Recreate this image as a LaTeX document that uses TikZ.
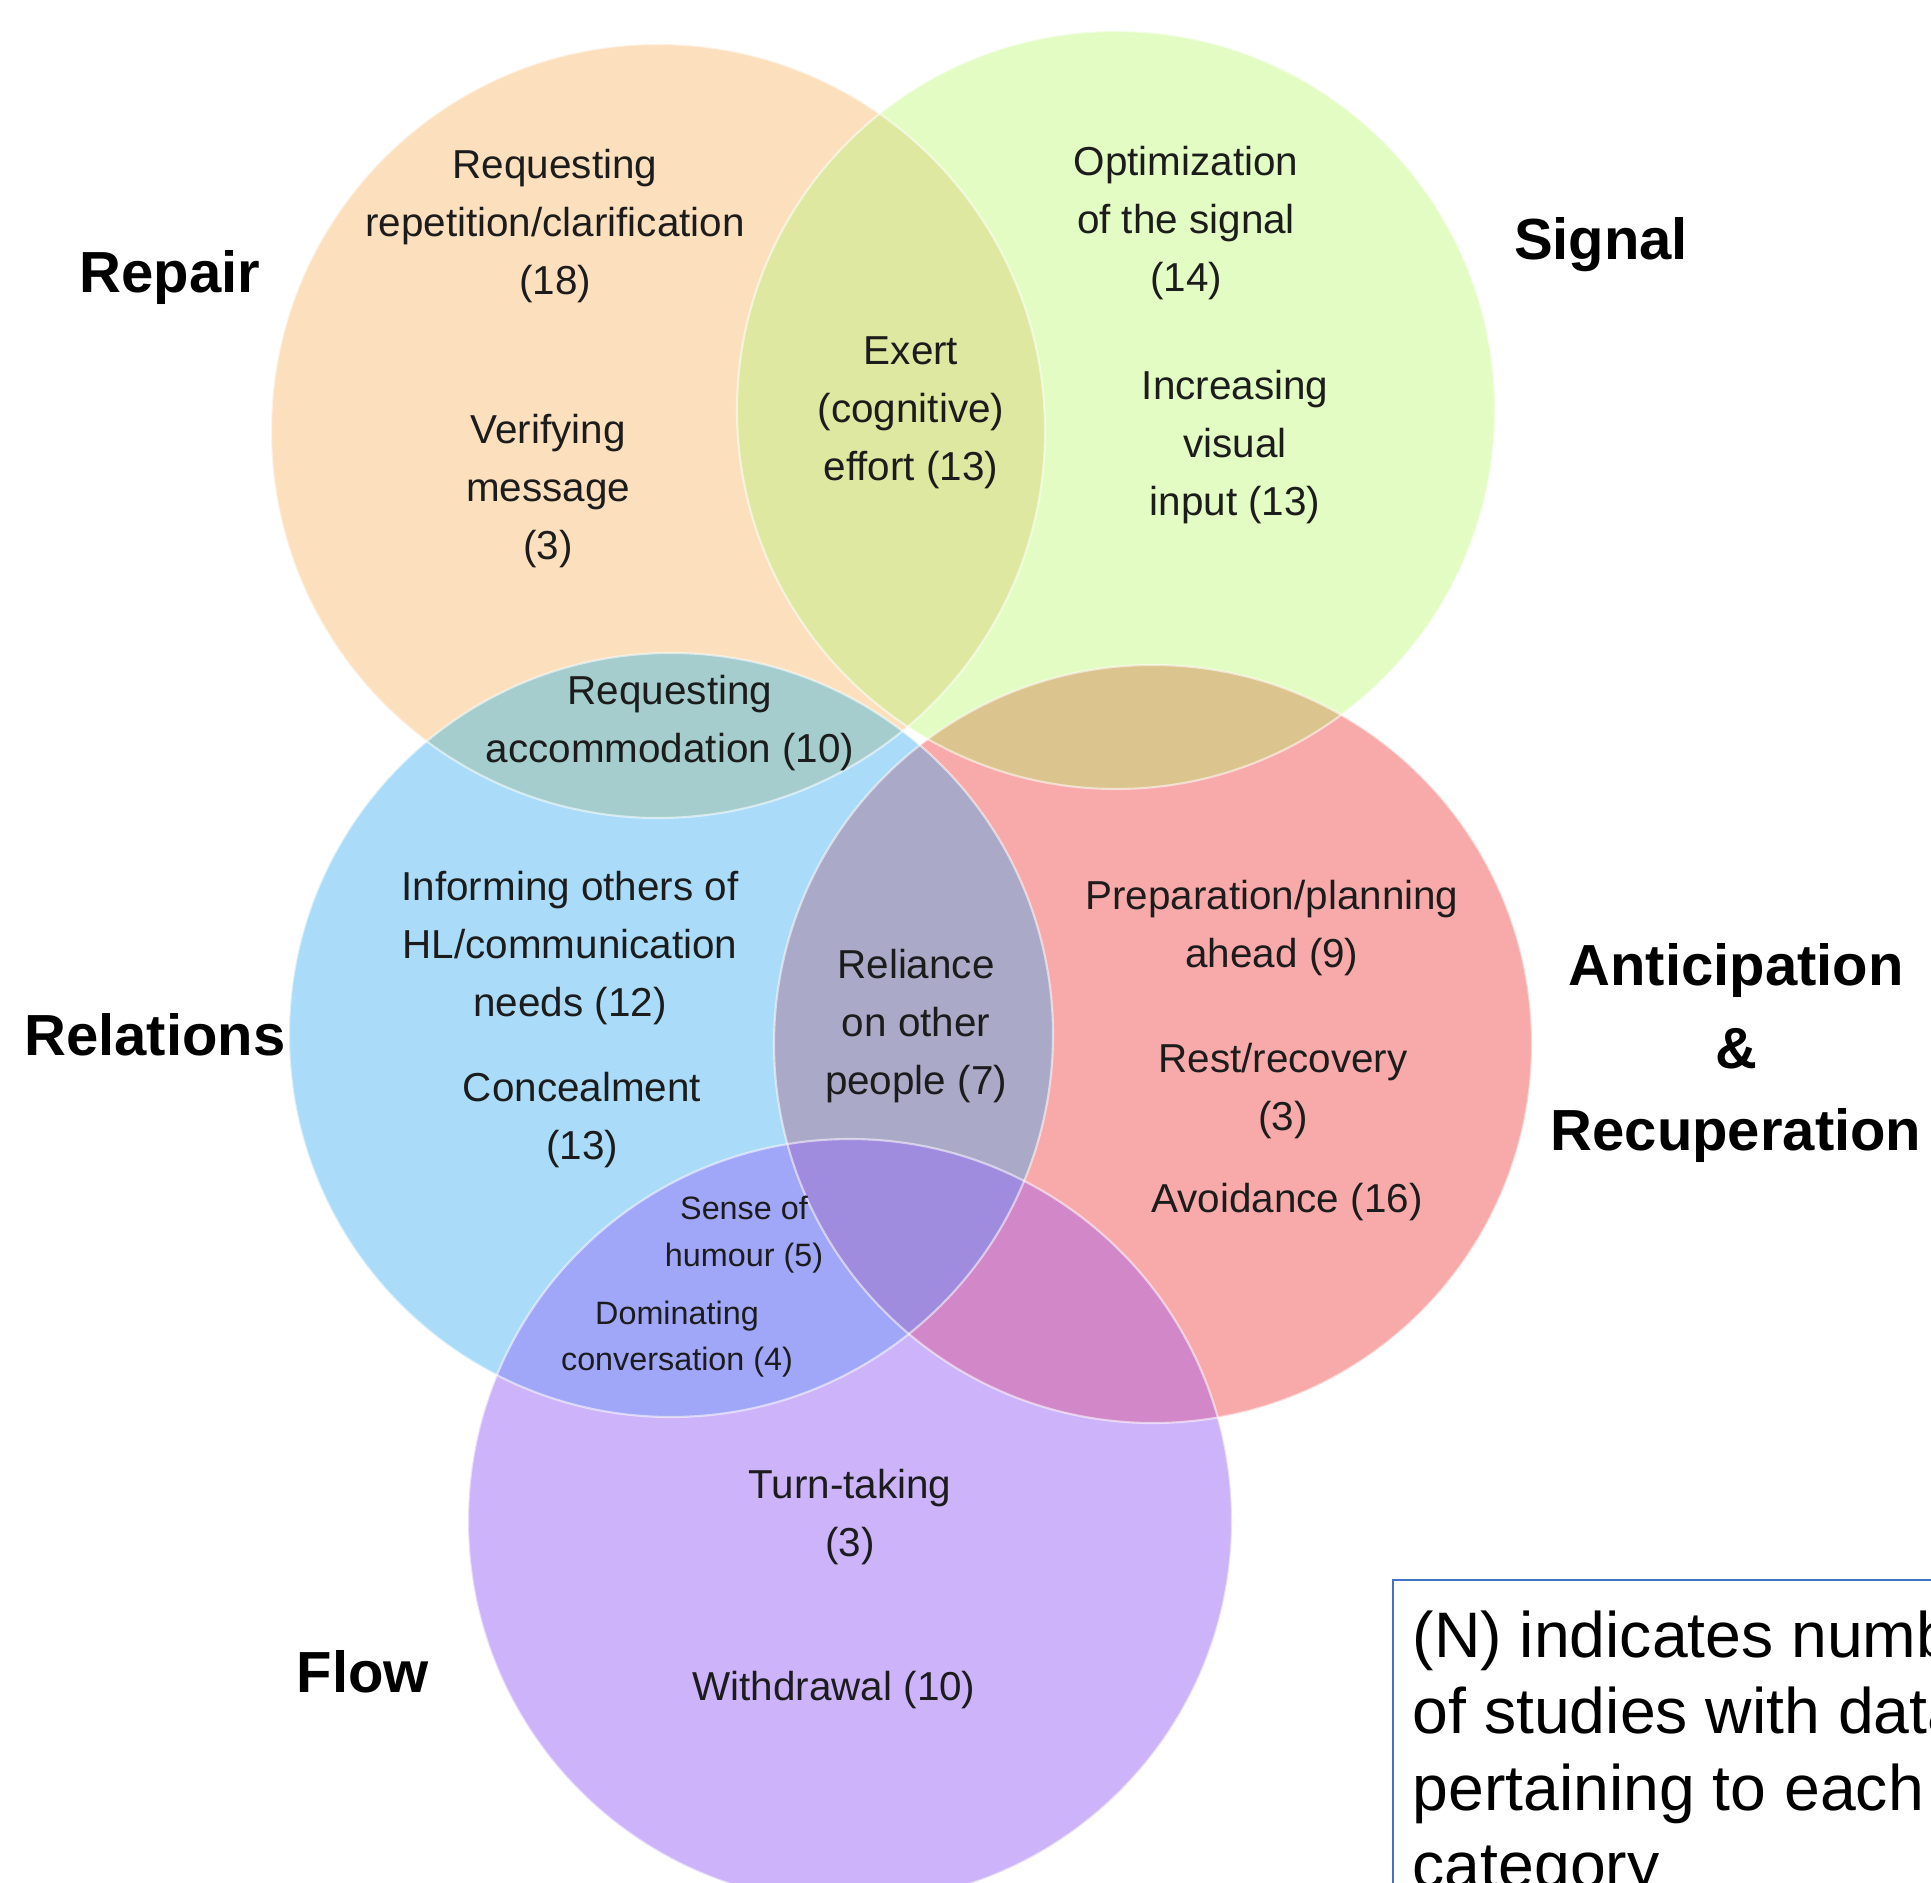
\documentclass[tikz,border=0pt]{standalone}
\usepackage{fontspec}
\setmainfont{Liberation Sans}
\usepackage{tikz}

\definecolor{repaircol}{HTML}{FCE0BE}
\definecolor{signalcol}{HTML}{E3FCC3}
\definecolor{relcol}{HTML}{AADCFA}
\definecolor{anticol}{HTML}{F8AAAA}
\definecolor{flowcol}{HTML}{CDB4FA}
\definecolor{rsgcol}{HTML}{DEE8A0}
\definecolor{rrlcol}{HTML}{A5CDCD}
\definecolor{sancol}{HTML}{DCC48E}
\definecolor{rlancol}{HTML}{AAAAC8}
\definecolor{rlflcol}{HTML}{A0A6F8}
\definecolor{anflcol}{HTML}{D288C8}
\definecolor{tripcol}{HTML}{A08CDE}
\definecolor{notecol}{HTML}{4472C4}
\definecolor{txtcol}{HTML}{1C1C1C}

\begin{document}
\begin{tikzpicture}[scale=0.1,
  lbl/.style={align=center, text=txtcol, font=\fontsize{11.5}{16.5}\selectfont},
  smalllbl/.style={align=center, text=txtcol, font=\fontsize{9.2}{13.3}\selectfont},
  head/.style={align=center, font=\fontsize{16.5}{23.5}\selectfont\bfseries}]
\tikzstyle{every node}+=[inner sep=0pt]
\useasboundingbox (0,0) rectangle (193.1,-188.2);
\clip (0,0) rectangle (193.1,-188.2);
\fill [white] (0,0) rectangle (193.1,-188.2);

% the five circles
\fill [repaircol] (65.8,-43.1) circle (38.7);
\fill [signalcol] (111.6,-41.0) circle (37.9);
\fill [relcol] (67.1,-103.5) circle (38.2);
\fill [anticol] (115.3,-104.4) circle (37.9);
\fill [flowcol] (85.0,-152.1) circle (38.2);

% overlaps
\begin{scope}
\clip (65.8,-43.1) circle (38.7);
\fill [rsgcol] (111.6,-41.0) circle (37.9);
\fill [rrlcol] (67.1,-103.5) circle (38.2);
\end{scope}
\begin{scope}
\clip (111.6,-41.0) circle (37.9);
\fill [sancol] (115.3,-104.4) circle (37.9);
\end{scope}
\begin{scope}
\clip (67.1,-103.5) circle (38.2);
\fill [rlancol] (115.3,-104.4) circle (37.9);
\fill [rlflcol] (85.0,-152.1) circle (38.2);
\end{scope}
\begin{scope}
\clip (115.3,-104.4) circle (37.9);
\fill [anflcol] (85.0,-152.1) circle (38.2);
\clip (67.1,-103.5) circle (38.2);
\fill [tripcol] (85.0,-152.1) circle (38.2);
\end{scope}

% light rims
\draw [white, draw opacity=0.55, line width=0.6pt] (65.8,-43.1) circle (38.7);
\draw [white, draw opacity=0.55, line width=0.6pt] (111.6,-41.0) circle (37.9);
\draw [white, draw opacity=0.55, line width=0.6pt] (67.1,-103.5) circle (38.2);
\draw [white, draw opacity=0.55, line width=0.6pt] (115.3,-104.4) circle (37.9);
\draw [white, draw opacity=0.55, line width=0.6pt] (85.0,-152.1) circle (38.2);

% category labels
\draw (17.0,-27.8) node [head] (repair) {Repair};
\draw (160.1,-24.5) node [head] (signal) {Signal};
\draw (15.5,-103.5) node [head] (relations) {Relations};
\draw (36.3,-167.2) node [head] (flow) {Flow};
\draw (173.6,-105.3) node [head] (anticip) {Anticipation\\\&\\Recuperation};

% themes
\draw (55.5,-22.6) node [lbl] (reqrep) {Requesting\\repetition/clarification\\(18)};
\draw (54.8,-49.1) node [lbl] (verify) {Verifying\\message\\(3)};
\draw (91.1,-41.3) node [lbl] (exert) {Exert\\(cognitive)\\effort (13)};
\draw (118.6,-22.3) node [lbl] (optim) {Optimization\\of the signal\\(14)};
\draw (123.5,-44.7) node [lbl] (incvis) {Increasing\\visual\\input (13)};
\draw (67.0,-72.3) node [lbl] (reqacc) {Requesting\\accommodation (10)};
\draw (57.0,-94.8) node [lbl] (inform) {Informing others of\\HL/communication\\needs (12)};
\draw (58.2,-112.0) node [lbl] (conceal) {Concealment\\(13)};
\draw (91.6,-102.6) node [lbl] (reliance) {Reliance\\on other\\people (7)};
\draw (127.2,-92.8) node [lbl] (prep) {Preparation/planning\\ahead (9)};
\draw (128.3,-109.1) node [lbl] (rest) {Rest/recovery\\(3)};
\draw (128.7,-120.2) node [lbl] (avoid) {Avoidance (16)};
\draw (74.4,-123.5) node [smalllbl] (humour) {Sense of\\humour (5)};
\draw (67.7,-133.9) node [smalllbl] (dominate) {Dominating\\conversation (4)};
\draw (85.0,-151.7) node [lbl] (turn) {Turn-taking\\(3)};
\draw (83.4,-169.0) node [lbl] (withdraw) {Withdrawal (10)};

% note box
\draw [notecol, line width=0.8pt] (139.3,-158.0) rectangle (205,-195);
\draw (141.2,-161.0) node [anchor=north west, align=left, font=\fontsize{18.3}{21.8}\selectfont] (note) {(N) indicates number\\of studies with data\\pertaining to each\\category};
\end{tikzpicture}
\end{document}
